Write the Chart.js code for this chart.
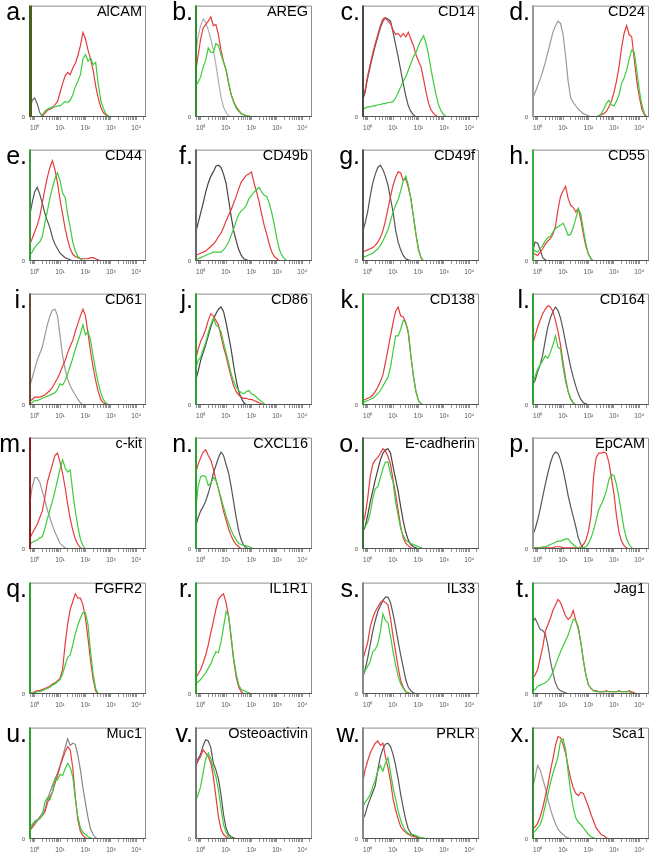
<!DOCTYPE html>
<html><head><meta charset="utf-8">
<script src="https://cdn.jsdelivr.net/npm/chart.js@4.4.1/dist/chart.umd.min.js"></script>
<style>
html,body{margin:0;padding:0;background:#fff;}
#fig{position:relative;width:650px;height:866px;overflow:hidden;font-family:"Liberation Sans",Arial,sans-serif;}
#fig canvas{position:absolute;}
.letter{position:absolute;width:40px;text-align:right;font-size:25px;line-height:25px;color:#000;white-space:nowrap;}
.marker{position:absolute;width:110px;text-align:right;font-size:14.5px;line-height:14.5px;color:#000;white-space:nowrap;}
</style></head><body><div id="fig"></div>
<script>
// ---------- labels ----------
const panelLetters = ['a.','b.','c.','d.','e.','f.','g.','h.','i.','j.','k.','l.','m.','n.','o.','p.','q.','r.','s.','t.','u.','v.','w.','x.'];
const markerNames = ['AlCAM','AREG','CD14','CD24','CD44','CD49b','CD49f','CD55','CD61','CD86','CD138','CD164','c-kit','CXCL16','E-cadherin','EpCAM','FGFR2','IL1R1','IL33','Jag1','Muc1','Osteoactivin','PRLR','Sca1'];
const tickDecades = [0,1,2,3,4];
const tickLabels = ['10\u2070','10\u00B9','10\u00B2','10\u00B3','10\u2074'];
// x positions of the histogram bins, in decades (log10 of fluorescence)
const decadeGrid = [-0.2,-0.1,0,0.1,0.2,0.3,0.4,0.5,0.6,0.7,0.8,0.9,1,1.1,1.2,1.3,1.4,1.5,1.6,1.7,1.8,1.9,2,2.1,2.2,2.3,2.4,2.5,2.6,2.7,2.8,2.9,3,3.1,3.2,3.3,3.4,3.5,3.6,3.7,3.8,3.9,4,4.1,4.2,4.3];

// ---------- counts (% of panel height), one list per panel, starting at decadeGrid[0] ----------
const grayCounts = [
 [3,15,17,12,4,1,0],
 [55,72,82,88,85,78,70,60,47,32,18,9,4,1,0],
 [15,22,35,45,55,64,72,80,86,89,88,86,76,65,54,42,30,19,10,5,2,0],
 [16,22,28,34,41,49,58,67,76,82,86,84,74,55,32,17,13,10,7,5,3,2,1,0],
 [40,52,62,66,60,52,43,36,30,21,15,11,7,5,3,2,1,0],
 [25,34,43,52,62,70,76,80,85,86,84,78,70,55,40,27,18,10,5,2,1,0],
 [26,34,44,58,70,78,84,86,82,76,68,56,44,28,17,10,5,2,1,0],
 [8,17,16,10,3,1,0],
 [16,24,32,40,46,52,62,72,80,85,86,80,62,44,32,23,17,13,9,5,2,0],
 [22,30,40,47,54,62,70,77,82,86,88,84,74,62,50,35,22,12,6,2,0],
 null,
 [18,22,30,36,45,58,70,78,84,88,85,78,68,56,45,34,25,17,10,5,2,1,0],
 [40,55,64,64,60,52,44,35,28,21,15,10,5,3,1,0],
 [20,28,34,38,43,50,58,68,75,82,87,84,76,68,56,42,28,16,8,3,1,0],
 [15,20,30,42,52,62,71,80,86,89,90,86,74,63,52,38,25,15,8,4,2,1,0],
 [12,18,26,36,47,58,68,77,84,87,86,80,71,60,48,38,29,20,10,4,1,0],
 null,
 null,
 [14,22,32,44,56,66,74,79,84,87,87,82,72,60,47,35,24,13,6,3,1,0],
 [64,68,63,58,57,54,44,30,19,10,5,3,2,1,0],
 [8,10,13,16,20,23,26,35,42,48,54,59,66,74,82,90,84,86,85,75,62,46,32,19,9,4,1,0],
 [68,72,76,84,89,88,82,68,62,54,40,22,10,4,2,1,0],
 [17,22,30,36,42,48,62,74,81,85,86,83,76,66,54,40,28,17,9,5,3,2,1,0],
 [44,56,66,62,54,46,36,27,20,14,9,6,4,2,1,0]
];
const redCounts = [
 [0,0,0,0,0,1,3,6,7,8,11,14,22,30,37,40,38,44,48,55,64,76,70,60,52,42,28,17,9,4,2,0],
 [40,55,70,80,83,86,90,82,83,74,60,50,42,30,20,14,9,6,3,2,1,0],
 [17,24,37,47,57,66,74,82,88,89,86,84,78,74,75,72,75,72,76,70,64,56,50,45,34,22,12,6,3,1,0],
 [0,0,0,0,0,0,0,0,0,0,0,0,0,0,0,0,0,0,0,0,0,0,0,0,0,0,1,2,3,5,9,14,22,32,45,62,75,82,74,72,52,32,18,7,2,0],
 [14,20,26,32,40,52,64,75,84,90,82,70,55,42,29,19,11,6,4,3,2,2,2,2,3,3,2,1,0],
 [5,6,7,8,9,11,13,15,18,22,25,30,36,41,46,52,58,65,71,74,77,78,80,70,62,53,42,32,24,15,8,4,2,0],
 [8,9,10,11,12,14,17,21,27,36,47,58,68,75,80,79,72,74,66,56,40,24,10,3,0],
 [8,6,5,8,11,15,18,20,24,31,46,58,63,67,56,50,48,44,47,37,24,13,6,2,0],
 [3,5,7,7,7,8,9,11,13,16,20,24,29,35,40,47,53,58,66,73,80,86,80,64,48,34,22,12,5,2,1,0],
 [40,50,57,62,68,76,82,80,76,72,62,52,44,34,25,17,12,9,7,6,6,5,5,4,3,2,1,0],
 [4,5,6,7,9,12,16,21,27,38,50,62,74,84,88,80,79,74,64,44,26,12,4,1,0],
 [54,62,70,76,82,86,89,88,84,76,66,54,38,24,12,5,2,0],
 [9,14,18,22,28,34,46,60,68,76,84,86,78,68,55,40,27,17,9,4,1,0],
 [68,76,82,87,89,84,80,72,62,54,44,34,26,18,12,7,4,2,0],
 [22,30,45,65,76,80,82,86,90,88,83,76,62,49,35,20,10,5,3,1,0],
 [1,1,1,1,1,1,1,1,1,2,2,2,1,1,1,1,1,1,1,2,4,8,16,30,65,82,86,86,87,86,78,64,50,30,15,7,3,1,0],
 [1,1,2,3,3,4,5,6,7,9,10,12,14,22,45,63,76,83,90,86,86,80,68,50,30,13,3,0],
 [14,18,22,28,35,44,55,65,76,85,88,90,82,70,50,30,15,6,2,0],
 [30,38,46,60,68,74,78,82,84,82,80,68,52,38,24,12,6,2,1,0],
 [14,17,22,32,42,56,62,68,75,80,85,82,76,70,67,69,75,66,60,46,30,17,8,5,3,3,2,2,2,3,2,2,2,2,3,2,2,2,3,2,1,0],
 [7,11,15,17,19,21,24,32,38,42,50,57,65,72,78,83,80,64,38,17,7,3,1,0],
 [65,70,74,80,77,74,68,56,38,20,9,4,2,0],
 [50,62,70,77,82,86,88,84,86,74,64,52,36,26,18,11,8,6,4,3,2,2,0],
 [9,11,14,20,28,38,48,61,72,84,92,91,85,77,65,54,46,41,39,42,41,35,29,22,16,10,7,4,3,1,0]
];
const greenCounts = [
 [0,0,0,0,0,2,5,7,8,9,9,10,10,12,14,13,15,20,27,32,38,52,56,50,53,47,49,30,15,8,3,1,0],
 [28,31,36,45,51,62,58,58,66,64,56,49,43,31,20,13,8,5,3,2,1,1,0],
 [7,8,9,9,10,10,11,11,12,12,13,13,14,17,22,27,32,36,42,48,54,58,64,69,73,66,55,42,30,19,10,5,2,0],
 [0,0,0,0,0,0,0,0,0,0,0,0,0,0,0,0,0,0,0,0,0,0,0,0,0,0,1,3,7,12,15,11,10,14,20,30,35,42,52,60,58,42,24,11,3,0],
 [5,8,12,15,17,22,34,45,56,66,74,79,72,61,57,42,30,17,9,4,2,0],
 [1,2,3,4,5,6,7,8,8,8,8,10,13,17,23,29,36,42,45,47,50,56,59,62,64,66,62,59,58,52,43,32,20,10,5,2,0],
 [4,4,5,6,7,9,11,14,18,23,28,36,44,50,55,63,72,76,68,56,40,24,11,3,0],
 [12,9,8,11,14,18,21,22,26,29,31,32,34,29,23,24,30,38,47,42,28,15,6,2,0],
 [1,2,4,4,5,6,7,8,9,10,11,14,19,18,22,28,35,42,50,57,64,72,63,66,58,44,31,20,11,5,2,0],
 [32,40,43,50,56,65,72,78,72,70,66,56,47,38,28,21,16,13,11,10,12,13,10,9,7,5,3,1,0],
 [2,3,4,5,6,8,10,13,17,21,25,34,48,62,62,68,76,74,66,44,26,12,4,1,0],
 [18,26,32,36,40,44,42,47,54,62,52,50,34,21,12,6,2,0],
 [4,6,7,8,10,11,18,27,35,43,52,62,72,80,73,69,71,51,34,20,9,3,0],
 [34,56,65,66,65,57,59,64,62,54,46,38,30,23,17,12,8,5,4,3,3,2,1,0],
 [18,20,24,32,45,54,56,64,72,78,78,67,60,42,30,18,12,8,6,5,4,3,2,1,0],
 [0,1,1,1,2,2,3,4,5,6,7,7,8,9,9,6,4,2,1,1,1,2,5,10,17,26,35,40,45,52,62,67,66,58,46,32,18,9,4,1,0],
 [0,1,1,2,2,3,4,5,6,8,9,11,13,18,26,33,35,44,54,62,68,73,73,62,38,18,5,0],
 [9,11,13,16,19,23,27,33,38,37,47,60,74,70,52,32,18,8,4,3,2,1,0],
 [17,21,25,29,38,40,45,56,72,66,64,52,38,26,16,9,5,2,1,0],
 [3,4,7,8,9,10,12,15,20,26,32,38,43,48,53,60,67,66,58,46,30,17,8,5,3,2,2,2,2,2,2,2,2,2,2,2,2,2,2,1,0],
 [10,13,16,17,18,21,33,37,35,42,54,53,58,57,63,68,64,56,36,20,10,6,4,2,1,0],
 [34,40,47,60,72,77,72,63,56,44,28,13,6,2,1,0],
 [28,33,36,40,47,53,61,66,61,68,73,60,46,36,25,17,11,7,5,4,4,3,2,1,1,0],
 [5,7,10,13,20,30,40,50,59,66,74,88,90,80,60,42,28,19,15,13,10,7,4,2,1,0]
];

// ---------- styling ----------
const grayShade = ['#666','#b0b0b0','#555','#9a9a9a','#555','#444','#555','#555','#9a9a9a','#444',null,'#555',
                   '#9a9a9a','#555','#444','#555',null,null,'#555','#666','#888','#555','#555','#9a9a9a'];
const edgeColor = ['#4b5e22','#2e8b2e','#4a4a40','#9a9a9a','#3c9a3c','#666','#555','#3cae3c','#6b4a3a','#2ea02e','#2ea02e','#2ea02e',
                   '#8b2020','#2ea02e','#3a6e3a','#9a9a9a','#2ea02e','#2ea02e','#888','#2ea02e','#2ea02e','#777','#888','#3a8a3a'];
const RED = '#e63c3c', GREEN = '#3ccc3c';
const colLeft = [29,195,362,532];
const rowTop = [1,145,289,433,578,723];
const BOX_W = 117, BOX_H = 116, Y_AXIS_W = 12, X_AXIS_H = 18, PAD_T = 3, PAD_R = 3;
const X_MIN = Math.pow(10,-0.22), X_MAX = Math.pow(10,4.38);

Chart.defaults.font.family = '"Liberation Sans", Arial, sans-serif';

const axisTicks = [];
for (let e = -1; e <= 4; e++) for (let k = 1; k <= 9; k++) {
  const v = k * Math.pow(10, e);
  if (v >= X_MIN && v <= X_MAX) axisTicks.push(v);
}
function labelFor(v) {
  const d = Math.log10(v);
  const i = tickDecades.findIndex(t => Math.abs(t - d) < 1e-6);
  return i >= 0 ? tickLabels[i] : '';
}
function toPoints(vals) {
  const first = vals.findIndex(v => v > 0);
  let last = vals.length - 1;
  while (last >= 0 && vals[last] <= 0) last--;
  const s = Math.max(0, first - 1), e = Math.min(vals.length - 1, last + 1);
  const pts = [];
  for (let i = s; i <= e; i++) pts.push({x: Math.pow(10, decadeGrid[i]), y: vals[i]});
  return pts;
}

const framePlugin = {
  id: 'frame',
  afterDatasetsDraw(chart, args, opts) {
    const {ctx, chartArea: a} = chart;
    ctx.save();
    ctx.lineWidth = 1;
    ctx.strokeStyle = '#8e8e8e';
    ctx.beginPath();
    ctx.moveTo(a.left, a.top + 0.5); ctx.lineTo(a.right - 0.5, a.top + 0.5); ctx.lineTo(a.right - 0.5, a.bottom);
    ctx.stroke();
    ctx.strokeStyle = '#555';
    ctx.beginPath(); ctx.moveTo(a.left, a.bottom - 0.5); ctx.lineTo(a.right, a.bottom - 0.5); ctx.stroke();
    ctx.strokeStyle = opts.edge; ctx.lineWidth = opts.width;
    ctx.beginPath(); ctx.moveTo(a.left + opts.width / 2, a.top); ctx.lineTo(a.left + opts.width / 2, a.bottom); ctx.stroke();
    ctx.restore();
  }
};

const fig = document.getElementById('fig');
panelLetters.forEach((letter, i) => {
  const col = i % 4, row = Math.floor(i / 4);
  const left = colLeft[col], top = rowTop[row];
  const W = BOX_W + Y_AXIS_W + PAD_R, H = BOX_H + PAD_T + X_AXIS_H;
  const cv = document.createElement('canvas');
  cv.width = W; cv.height = H;
  cv.style.left = (left - Y_AXIS_W) + 'px'; cv.style.top = (top - PAD_T) + 'px';
  cv.style.width = W + 'px'; cv.style.height = H + 'px';
  fig.appendChild(cv);

  const datasets = [];
  if (greenCounts[i]) datasets.push({data: toPoints(greenCounts[i]), borderColor: GREEN});
  if (redCounts[i]) datasets.push({data: toPoints(redCounts[i]), borderColor: RED});
  if (grayCounts[i]) datasets.push({data: toPoints(grayCounts[i]), borderColor: grayShade[i]});
  datasets.forEach(d => { d.borderWidth = 1.2; d.pointRadius = 0; d.tension = 0; d.fill = false; });

  new Chart(cv, {
    type: 'line',
    data: {datasets},
    options: {
      responsive: false, animation: false, devicePixelRatio: 1,
      layout: {padding: {top: PAD_T, right: PAD_R, left: 0, bottom: 0}},
      plugins: {legend: {display: false}, tooltip: {enabled: false},
                frame: {edge: edgeColor[i], width: i === 0 ? 3 : 2}},
      scales: {
        x: {
          type: 'logarithmic', min: X_MIN, max: X_MAX,
          afterBuildTicks: s => { s.ticks = axisTicks.map(v => ({value: v})); },
          afterFit: s => { s.height = X_AXIS_H; },
          grid: {drawOnChartArea: false, drawTicks: true, tickLength: 3, color: '#777', lineWidth: 0.8},
          border: {display: false},
          ticks: {autoSkip: false, maxRotation: 0, minRotation: 0, padding: 4,
                  font: {size: 6.5}, color: '#555', callback: v => labelFor(v)}
        },
        y: {
          min: 0, max: 100,
          afterBuildTicks: s => { s.ticks = [{value: 0}]; },
          afterFit: s => { s.width = Y_AXIS_W; },
          grid: {drawOnChartArea: false, drawTicks: false},
          border: {display: false},
          ticks: {padding: 4, font: {size: 6}, color: '#555', callback: () => '0'}
        }
      }
    },
    plugins: [framePlugin]
  });

  const L = document.createElement('div');
  L.className = 'letter'; L.textContent = letter;
  L.style.left = (left - 42) + 'px'; L.style.top = (top - 2) + 'px';
  fig.appendChild(L);
  const M = document.createElement('div');
  M.className = 'marker'; M.textContent = markerNames[i];
  M.style.left = (left + BOX_W - 4 - 110) + 'px'; M.style.top = (top + 3) + 'px';
  fig.appendChild(M);
});
</script>
</body></html>
